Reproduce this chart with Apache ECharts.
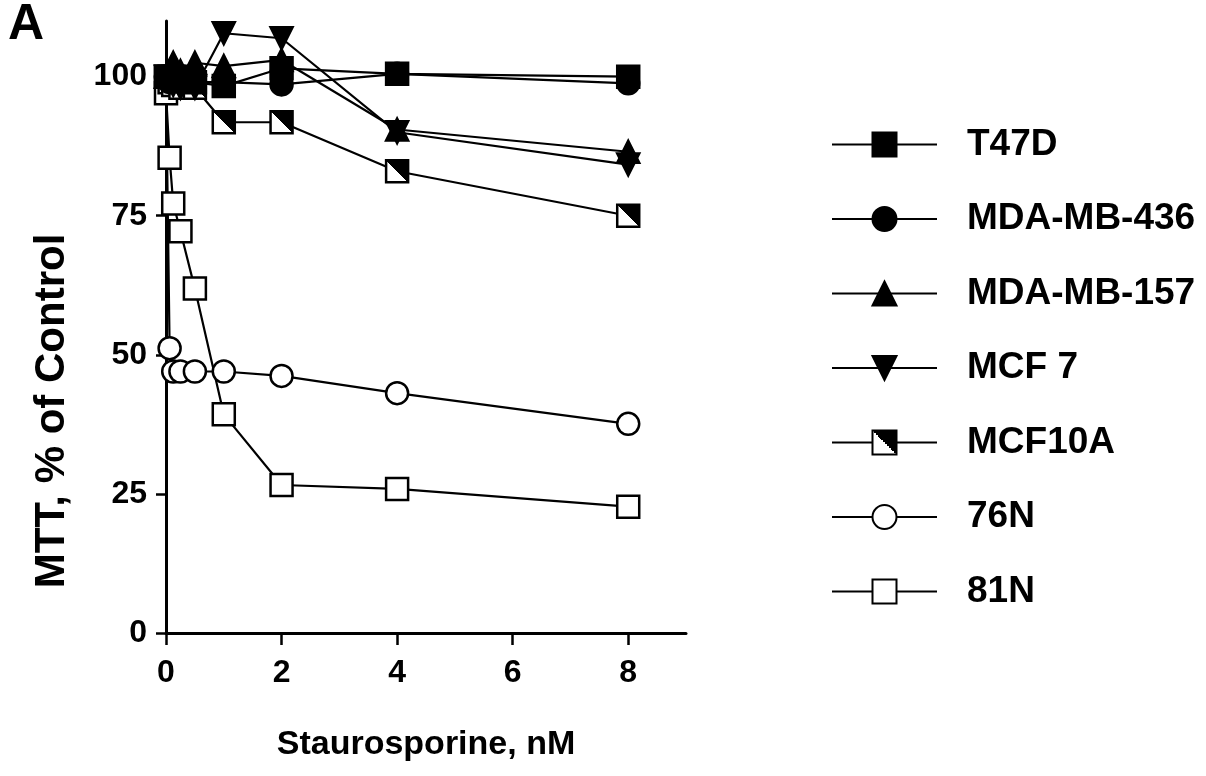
<!DOCTYPE html>
<html>
<head>
<meta charset="utf-8">
<script src="https://cdn.jsdelivr.net/npm/echarts@6/dist/echarts.min.js"></script>
<style>
html,body{margin:0;padding:0;background:#fff;}
#chart{width:1206px;height:776px;}
</style>
</head>
<body>
<div id="chart"></div>
<script>
// Staurosporine doses (nM)
var doses = [0, 0.0625, 0.125, 0.25, 0.5, 1, 2, 4, 8];
// MTT, % of control for each cell line
var t47d     = [100, 100, 100, 100, 99, 98.3, 101.5, 100.5, 100];
var mda436   = [100, 99, 99.5, 99, 99, 99, 98.6, 100.5, 98.8];
var mda157   = [100, 101, 102.5, 101, 102.5, 101.9, 103, 90.5, 86.5];
var mcf7     = [100, 99, 98.5, 98, 98, 107.8, 106.9, 90, 84.2];
var mcf10a   = [100, 99, 98.5, 98, 98, 91.8, 91.8, 83, 75];
var n76      = [100, 51.2, 47, 47, 47, 47, 46.2, 43.1, 37.6];
var n81      = [97, 85.4, 77.2, 72.2, 61.9, 39.3, 26.6, 25.9, 22.7];
var seriesNames = ['T47D', 'MDA-MB-436', 'MDA-MB-157', 'MCF 7', 'MCF10A', '76N', '81N'];
var xTicks = [0, 2, 4, 6, 8];
var yTicks = [0, 25, 50, 75, 100];

function pairs(vals){ return doses.map(function(d,i){ return [d, vals[i]]; }); }

var FONT = '"Liberation Sans", Arial, Helvetica, sans-serif';
var halfFill = new echarts.graphic.LinearGradient(0, 1, 1, 0, [
  {offset:0, color:'#ffffff'}, {offset:0.5, color:'#ffffff'},
  {offset:0.5, color:'#000000'}, {offset:1, color:'#000000'}
]);

function mk(name, vals, symbol, fill, rotate){
  return {
    name: name, type: 'line', data: pairs(vals),
    symbol: symbol, symbolSize: 22, symbolRotate: rotate || 0,
    showAllSymbol: true,
    lineStyle: {color:'#000', width:2.2},
    itemStyle: {color: fill, borderColor:'#000', borderWidth:2.5},
    emphasis: {disabled:true}
  };
}

var chart = echarts.init(document.getElementById('chart'), null, {renderer:'canvas'});
chart.setOption({
  animation: false,
  backgroundColor: '#fff',
  grid: {left:166, right:520, top:21, bottom:143, containLabel:false},
  xAxis: {
    type:'value', min:0, max:9,
    name:'Staurosporine, nM', nameLocation:'middle', nameGap:95,
    nameTextStyle:{fontFamily:FONT, fontWeight:'bold', fontSize:34, color:'#000'},
    axisLine:{lineStyle:{color:'#000', width:3}},
    axisTick:{show:true, length:12, lineStyle:{color:'#000', width:2.5}, customValues:xTicks},
    axisLabel:{fontFamily:FONT, fontWeight:'bold', fontSize:32, color:'#000', margin:24, customValues:xTicks},
    splitLine:{show:false}
  },
  yAxis: {
    type:'value', min:0, max:110,
    axisLine:{show:true, lineStyle:{color:'#000', width:3}},
    axisTick:{show:true, length:10, lineStyle:{color:'#000', width:2.5}, customValues:yTicks},
    axisLabel:{fontFamily:FONT, fontWeight:'bold', fontSize:32, color:'#000', margin:19, customValues:yTicks},
    splitLine:{show:false}
  },
  legend: {
    orient:'vertical', left:826, top:121,
    data: seriesNames,
    itemWidth:105, itemHeight:30, itemGap:37.5,
    textStyle:{fontFamily:FONT, fontWeight:'bold', fontSize:37, color:'#000', padding:[0,0,0,25]},
    selectedMode:false
  },
  graphic: [
    {type:'text', left:8, top:0, style:{text:'A', fontFamily:FONT, fontWeight:'bold', fontSize:50, fill:'#000'}},
    {type:'text', x:52, y:411, rotation:Math.PI/2,
     style:{text:'MTT, % of Control', fontFamily:FONT, fontWeight:'bold', fontSize:42, fill:'#000', align:'center', verticalAlign:'middle'}}
  ],
  series: [
    mk('81N', n81, 'rect', '#fff'),
    mk('76N', n76, 'circle', '#fff'),
    mk('MCF10A', mcf10a, 'rect', halfFill),
    mk('MCF 7', mcf7, 'triangle', '#000', 180),
    mk('MDA-MB-157', mda157, 'triangle', '#000'),
    mk('MDA-MB-436', mda436, 'circle', '#000'),
    mk('T47D', t47d, 'rect', '#000')
  ]
});
</script>
</body>
</html>
